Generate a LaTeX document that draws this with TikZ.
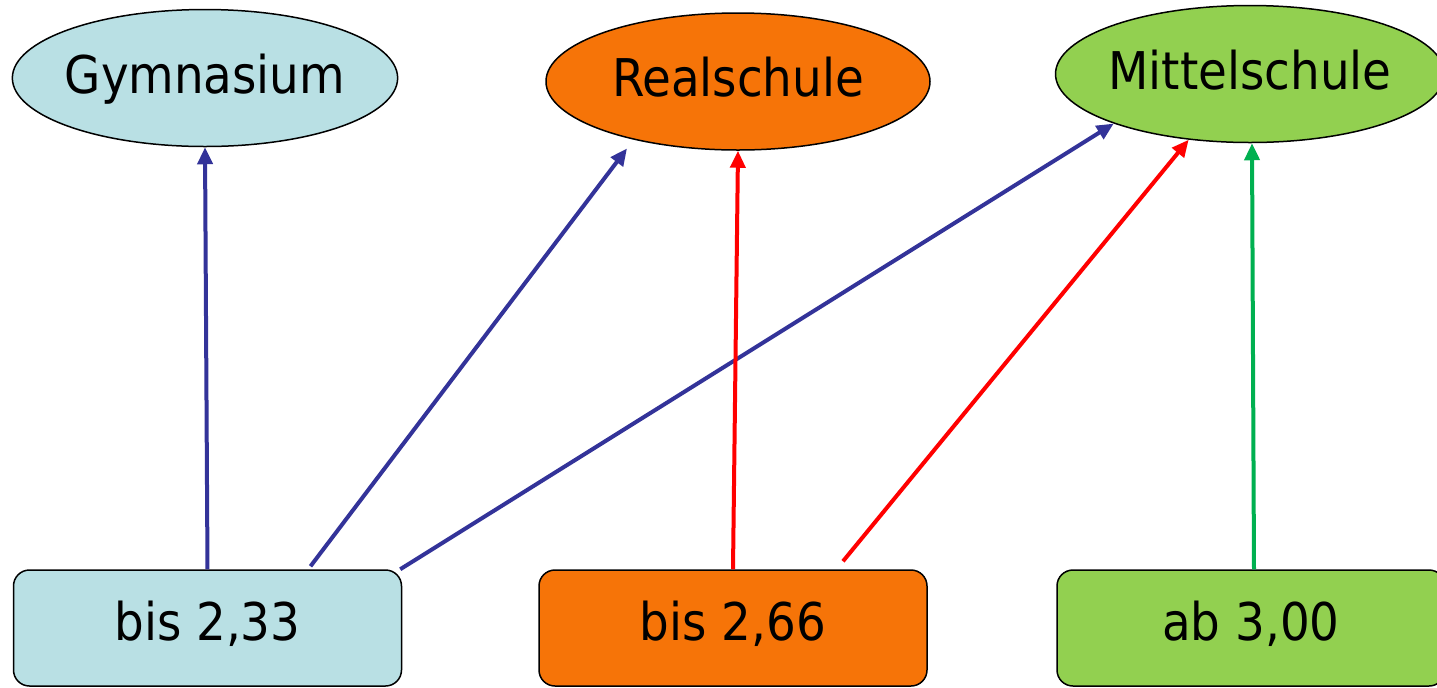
\documentclass[tikz,border=0pt]{standalone}
\usepackage{fontspec}
\setmainfont{DejaVu Sans Condensed}
\usetikzlibrary{shapes.geometric, arrows.meta, positioning}
\definecolor{gymblue}{HTML}{B9E0E4}
\definecolor{realorange}{HTML}{F67408}
\definecolor{mittelgreen}{HTML}{92D050}
\definecolor{linkblue}{HTML}{333399}
\definecolor{linkred}{HTML}{FF0000}
\definecolor{linkgreen}{HTML}{00B050}

\begin{document}
\begin{tikzpicture}[node distance=275pt]
% Define styles
\tikzstyle{school} = [ellipse, draw=black, line width=0.75pt, minimum width=192pt, minimum height=68.5pt, inner xsep=-2pt, inner ysep=0pt, text height=20pt, text depth=5pt, font=\fontsize{26pt}{31pt}\selectfont]
\tikzstyle{grade} = [rectangle, rounded corners=8pt, draw=black, line width=0.75pt, minimum width=194pt, minimum height=58pt, text height=20pt, text depth=8pt, font=\fontsize{26pt}{31pt}\selectfont]
\tikzstyle{arrow} = [line width=2pt,-{Triangle[length=8.5pt,width=7.5pt]}]

\useasboundingbox (0pt,0pt) rectangle (718.5pt,-343.5pt);

% Nodes
\node (gym) [school, fill=gymblue] at (102.5pt,-39pt) {Gymnasium};
\node (real) [school, fill=realorange, right of=gym, xshift=-8.5pt, yshift=-1.75pt] {Realschule};
\node (mittel) [school, fill=mittelgreen, minimum width=190pt, right of=real, xshift=-19pt, yshift=3.75pt] {Mittelschule};

\node (g233) [grade, fill=gymblue, below of=gym, xshift=1.25pt] {bis 2,33};
\node (r266) [grade, fill=realorange, below of=real, xshift=-2.5pt, yshift=1.75pt] {bis 2,66};
\node (a300) [grade, fill=mittelgreen, below of=mittel, xshift=0.5pt, yshift=-2pt] {ab 3,00};

% Arrows
\draw[arrow, linkblue] (g233.north) -- (gym.south);
\draw[arrow, linkblue] ([shift={(51.5pt,1.5pt)}]g233.north) -- ([shift={(-55.5pt,-33.5pt)}]real.center);
\draw[arrow, linkblue] ([xshift=-1pt]g233.north east) -- (mittel.200);
\draw[arrow, linkred] (r266.north) -- (real.south);
\draw[arrow, linkred] ([shift={(55pt,4pt)}]r266.north) -- (mittel.227);
\draw[arrow, linkgreen] ([xshift=1.5pt]a300.north) -- ([xshift=1pt]mittel.south);
\end{tikzpicture}
\end{document}
